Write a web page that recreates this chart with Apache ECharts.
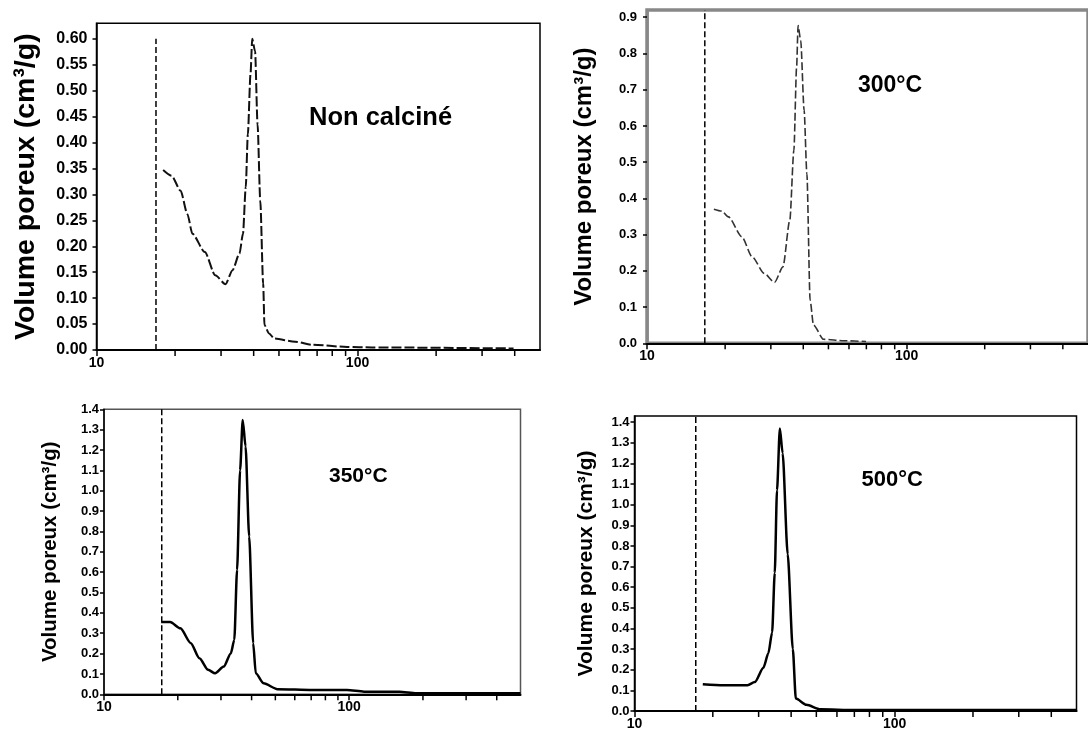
<!DOCTYPE html>
<html>
<head>
<meta charset="utf-8">
<script src="https://cdn.jsdelivr.net/npm/echarts@6/dist/echarts.min.js"></script>
<style>
html,body{margin:0;padding:0;background:#fff;}
#chart{width:1088px;height:734px;}
</style>
</head>
<body>
<div id="chart"></div>
<script>
// ---------- DATA ----------
const panelTitles = ['Non calciné', '300°C', '350°C', '500°C'];
const yAxisName = 'Volume poreux (cm³/g)';
const xMajorTicks = [10, 100];
const xMinorTicks = [20, 30, 40, 50, 60, 70, 80, 90, 200, 300, 400];

// Non calciné
const x1 = [18.0, 19.4, 21.0, 22.3, 23.3, 26.0, 28.5, 31.2, 33.2, 35.3, 36.4, 37.3, 38.0, 38.9, 39.5, 40.5, 41.4, 42.4, 43.5, 44.0, 45.8, 48.0, 57.7, 67.2, 91.2, 113, 396];
const y1 = [0.347, 0.336, 0.307, 0.262, 0.224, 0.189, 0.144, 0.127, 0.154, 0.186, 0.224, 0.314, 0.416, 0.532, 0.600, 0.576, 0.435, 0.288, 0.128, 0.048, 0.032, 0.022, 0.016, 0.010, 0.006, 0.005, 0.003];
// 300°C
const x2 = [18.1, 19.4, 20.6, 23.2, 25.4, 28.3, 31.0, 33.4, 35.5, 36.8, 37.7, 38.2, 39.1, 40.3, 41.3, 42.5, 43.8, 47.9, 57.5, 69.8];
const y2 = [0.370, 0.365, 0.349, 0.294, 0.239, 0.193, 0.168, 0.211, 0.340, 0.533, 0.762, 0.877, 0.836, 0.643, 0.468, 0.119, 0.050, 0.011, 0.007, 0.005];
// 350°C
const x3 = [17.1, 18.6, 20.5, 22.6, 24.5, 26.6, 28.4, 30.8, 32.9, 34.0, 34.9, 35.9, 36.8, 37.8, 39.1, 40.6, 41.6, 44.8, 51.0, 70.8, 98.0, 115, 160, 188, 500];
const y3 = [0.355, 0.355, 0.324, 0.251, 0.177, 0.120, 0.103, 0.136, 0.201, 0.267, 0.611, 1.10, 1.348, 1.217, 0.775, 0.251, 0.103, 0.054, 0.025, 0.021, 0.021, 0.013, 0.013, 0.005, 0.005];
// 500°C
const x4 = [18.3, 22.0, 27.2, 29.0, 31.3, 32.7, 33.8, 34.6, 35.3, 36.2, 37.1, 38.8, 40.6, 41.7, 45.8, 51.8, 70.4, 500];
const y4 = [0.13, 0.125, 0.125, 0.14, 0.21, 0.28, 0.38, 0.67, 1.07, 1.37, 1.25, 0.76, 0.30, 0.06, 0.03, 0.008, 0.005, 0.005];

// vertical dashed reference line: x position and top value
const refLineX = [16.9, 16.7, 17.2, 17.2];
const refLineTop = [0.60, 0.92, 1.4, 1.43];

const yMax = [0.63, 0.92, 1.4, 1.43];
const yInterval = [0.05, 0.1, 0.1, 0.1];
const yDecimals = [2, 1, 1, 1];
const xMin = 10, xMax = 500;

// ---------- LAYOUT / STYLE ----------
const FONT = "'Liberation Sans Narrow','Arial Narrow','Liberation Sans',Arial,sans-serif";
const layout = [
  {left: 96.5, top: 23.3, width: 443.5, height: 326.7, tickFont: 16, tickMargin: 9, nameFont: 28.5, nameGap: 56, border: '#000', borderW: 1.5, titleLeft: 304, titleTop: 100, titleFont: 25.5, lineW: 2, lineType: [10, 3], lineColor: '#111'},
  {left: 647, top: 10, width: 451, height: 333.3, tickFont: 13, tickMargin: 10, nameFont: 24, nameGap: 51, border: '#888', borderW: 3.5, titleLeft: 853, titleTop: 69, titleFont: 23, lineW: 1.6, lineType: [8, 3], lineColor: '#333'},
  {left: 104, top: 409.3, width: 416.5, height: 285, tickFont: 13, tickMargin: 5, nameFont: 20.5, nameGap: 43, border: '#555', borderW: 1.5, titleLeft: 324, titleTop: 461, titleFont: 21, lineW: 2.5, lineType: 'solid', lineColor: '#000'},
  {left: 634.5, top: 416, width: 442, height: 295, tickFont: 13, tickMargin: 5, nameFont: 21, nameGap: 38, border: '#000', borderW: 1.5, titleLeft: 856.5, titleTop: 464, titleFont: 22, lineW: 2.5, lineType: 'solid', lineColor: '#000'}
];

const xs = [x1, x2, x3, x4];
const ys = [y1, y2, y3, y4];

const grids = [], xAxes = [], yAxes = [], series = [], titles = [];
for (let i = 0; i < 4; i++) {
  const L = layout[i];
  grids.push({left: L.left, top: L.top, width: L.width, height: L.height, show: true,
    borderColor: L.border, borderWidth: L.borderW, backgroundColor: 'transparent', containLabel: false});
  xAxes.push({
    type: 'log', logBase: 10, gridIndex: i, min: xMin, max: xMax,
    axisLine: {show: true, onZero: false, lineStyle: {color: '#000', width: 2}},
    axisTick: {show: true, length: 6, lineStyle: {color: '#000', width: 1.5}},
    axisLabel: {show: true, showMaxLabel: false, margin: 6, color: '#000', fontFamily: FONT, fontWeight: 'bold', fontSize: 14,
      formatter: v => (xMajorTicks.indexOf(Math.round(v)) >= 0 ? String(Math.round(v)) : '')},
    splitLine: {show: false}
  });
  yAxes.push({
    type: 'value', gridIndex: i, min: 0, max: yMax[i], interval: yInterval[i],
    name: yAxisName, nameLocation: 'middle', nameGap: L.nameGap, nameRotate: 90,
    nameTextStyle: {fontFamily: FONT, fontWeight: 'bold', fontSize: L.nameFont, color: '#000'},
    axisLine: {show: true, lineStyle: {color: i === 1 ? '#888' : '#000', width: i === 1 ? 2.5 : 1.5}},
    axisTick: {show: true, length: 4, lineStyle: {color: '#000', width: 1.5}},
    axisLabel: {show: true, showMaxLabel: i === 2, margin: L.tickMargin, color: '#000', fontFamily: FONT, fontWeight: 'bold', fontSize: L.tickFont,
      formatter: v => v.toFixed(yDecimals[i])},
    splitLine: {show: false}
  });
  series.push({
    type: 'line', xAxisIndex: i, yAxisIndex: i,
    data: xs[i].map((x, k) => [x, ys[i][k]]),
    showSymbol: false, smooth: 0.25, smoothMonotone: 'x',
    lineStyle: {color: L.lineColor, width: L.lineW, type: L.lineType},
    silent: true
  });
  series.push({
    type: 'line', xAxisIndex: i, yAxisIndex: i,
    data: [[refLineX[i], 0], [refLineX[i], refLineTop[i]]],
    showSymbol: false,
    lineStyle: {color: '#000', width: 1.5, type: [6, 3]},
    silent: true
  });
  series.push({
    type: 'custom', xAxisIndex: i, yAxisIndex: i,
    data: xMinorTicks.map(v => [v, 0]),
    clip: false, silent: true,
    renderItem: function (params, api) {
      const p = api.coord([api.value(0), 0]);
      return {type: 'line', shape: {x1: p[0], y1: p[1], x2: p[0], y2: p[1] + 6},
        style: {stroke: '#000', lineWidth: 1.5}};
    }
  });
  titles.push({text: panelTitles[i], left: L.titleLeft, top: L.titleTop,
    textStyle: {fontFamily: FONT, fontWeight: 'bold', fontSize: L.titleFont, color: '#000'}});
}

const chart = echarts.init(document.getElementById('chart'), null, {renderer: 'canvas'});
chart.setOption({
  animation: false,
  backgroundColor: '#fff',
  title: titles,
  grid: grids,
  xAxis: xAxes,
  yAxis: yAxes,
  series: series
});
</script>
</body>
</html>
